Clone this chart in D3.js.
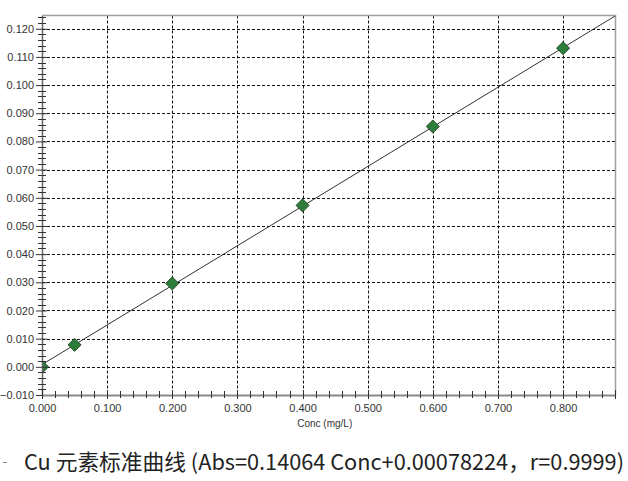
<!DOCTYPE html>
<html><head><meta charset="utf-8">
<script src="https://cdn.jsdelivr.net/npm/d3@7"></script>
<style>body{margin:0;background:#fff}svg{display:block}</style>
</head><body>
<svg id="c" width="628" height="481"></svg>
<script>
const concs = [0.000, 0.050, 0.200, 0.400, 0.600, 0.800];
const absValues = [0.0000, 0.0078, 0.0296, 0.0573, 0.0853, 0.1131];
const slope = 0.14064, intercept = 0.00078224;
const xTicks = [0, 0.1, 0.2, 0.3, 0.4, 0.5, 0.6, 0.7, 0.8];
const yTicks = [-0.01, 0, 0.01, 0.02, 0.03, 0.04, 0.05, 0.06, 0.07, 0.08, 0.09, 0.10, 0.11, 0.12];
const xTitle = "Conc (mg/L)";
const caption = "Cu 元素标准曲线 (Abs=0.14064 Conc+0.00078224，r=0.9999)";

const svg = d3.select("#c");
const L = 42, R = 615.5, T = 15.5, B = 395;
const x = d3.scaleLinear().domain([0, 0.8805]).range([L, R]);
const y = d3.scaleLinear().domain([-0.010, 0.1247]).range([B, T]);
const tickFont = "'Liberation Sans', Arial, sans-serif";

const g = svg.append("g");
g.selectAll(".gx").data(xTicks.filter(d => d > 0)).join("line")
  .attr("x1", d => Math.round(x(d)) + 0.5).attr("x2", d => Math.round(x(d)) + 0.5)
  .attr("y1", T).attr("y2", B)
  .attr("stroke", "#111").attr("stroke-width", 1).attr("stroke-dasharray", "3,2");
g.selectAll(".gy").data(yTicks.filter(d => d > -0.01)).join("line")
  .attr("x1", L).attr("x2", R)
  .attr("y1", d => Math.round(y(d)) + 0.5).attr("y2", d => Math.round(y(d)) + 0.5)
  .attr("stroke", "#111").attr("stroke-width", 1).attr("stroke-dasharray", "3,2");

g.append("path").attr("d", `M${L},${T}H${R}V${B}`).attr("fill", "none")
  .attr("stroke", "#a0a0a0").attr("stroke-width", 1.5);

svg.append("clipPath").attr("id", "clip").append("rect")
  .attr("x", L).attr("y", T).attr("width", R - L).attr("height", B - T);
const pg = svg.append("g").attr("clip-path", "url(#clip)");
const xr = x.domain();
pg.append("line")
  .attr("x1", x(xr[0])).attr("y1", y(slope * xr[0] + intercept))
  .attr("x2", x(xr[1])).attr("y2", y(slope * xr[1] + intercept))
  .attr("stroke", "#333").attr("stroke-width", 1);
pg.selectAll(".pt").data(concs.map((c, i) => [c, absValues[i]])).join("path")
  .attr("transform", d => `translate(${x(d[0])},${y(d[1])})`)
  .attr("d", d3.symbol(d3.symbolDiamond2, 110)())
  .attr("fill", "#2f7d3a").attr("stroke", "#1b3d1e").attr("stroke-width", 0.8);

const yAxis = d3.axisLeft(y).tickValues(yTicks).tickFormat(d3.format(".3f")).tickSizeInner(5).tickSizeOuter(0).tickPadding(3);
const ya = svg.append("g").attr("transform", `translate(${L},0)`).call(yAxis);
ya.select(".domain").attr("stroke", "#666").attr("stroke-width", 1.5);
ya.selectAll(".tick line").attr("x2", 5).attr("x1", -6).attr("stroke", "#333");
ya.selectAll("text").attr("font-family", tickFont).attr("font-size", 11).attr("fill", "#333");
const yMinor = d3.range(-0.010, 0.1247, 0.002).filter(v => Math.abs(Math.round(v * 100) - v * 100) > 1e-6);
svg.append("g").selectAll("line").data(yMinor).join("line")
  .attr("x1", L - 4).attr("x2", L + 4)
  .attr("y1", d => Math.round(y(d)) + 0.5).attr("y2", d => Math.round(y(d)) + 0.5)
  .attr("stroke", "#333");

const xAxis = d3.axisBottom(x).tickValues(xTicks).tickFormat(d3.format(".3f")).tickSizeInner(0).tickSizeOuter(0).tickPadding(9);
const xa = svg.append("g").attr("transform", `translate(0,${B})`).call(xAxis);
xa.select(".domain").attr("stroke", "#888").attr("stroke-width", 2);
xa.selectAll("text").attr("font-family", tickFont).attr("font-size", 11).attr("fill", "#333");
const xMinor = d3.range(0.02, 0.88, 0.02).filter(v => Math.abs(Math.round(v * 10) - v * 10) > 1e-6);
svg.append("g").selectAll("line").data(xMinor).join("line")
  .attr("x1", d => Math.round(x(d)) + 0.5).attr("x2", d => Math.round(x(d)) + 0.5)
  .attr("y1", B - 4).attr("y2", B + 3).attr("stroke", "#333");
svg.append("g").selectAll("line").data(xTicks).join("line")
  .attr("x1", d => Math.round(x(d)) + 0.5).attr("x2", d => Math.round(x(d)) + 0.5)
  .attr("y1", B - 5).attr("y2", B + 4).attr("stroke", "#333");
svg.append("line").attr("x1", R).attr("x2", R).attr("y1", B - 5).attr("y2", B + 4).attr("stroke", "#333");

svg.append("text").attr("x", (L + R) / 2 - 4).attr("y", 427).attr("text-anchor", "middle")
  .attr("font-family", tickFont).attr("font-size", 10).attr("fill", "#333").text(xTitle);

svg.append("line").attr("x1", 3).attr("x2", 7).attr("y1", 462.5).attr("y2", 462.5).attr("stroke", "#888");
svg.append("text").attr("x", 24).attr("y", 470)
  .attr("font-family", "'Noto Sans CJK SC', 'Noto Sans', sans-serif").attr("font-size", 21.5).attr("fill", "#222")
  .attr("textLength", 600).attr("lengthAdjust", "spacingAndGlyphs")
  .text(caption);
</script>
</body></html>
